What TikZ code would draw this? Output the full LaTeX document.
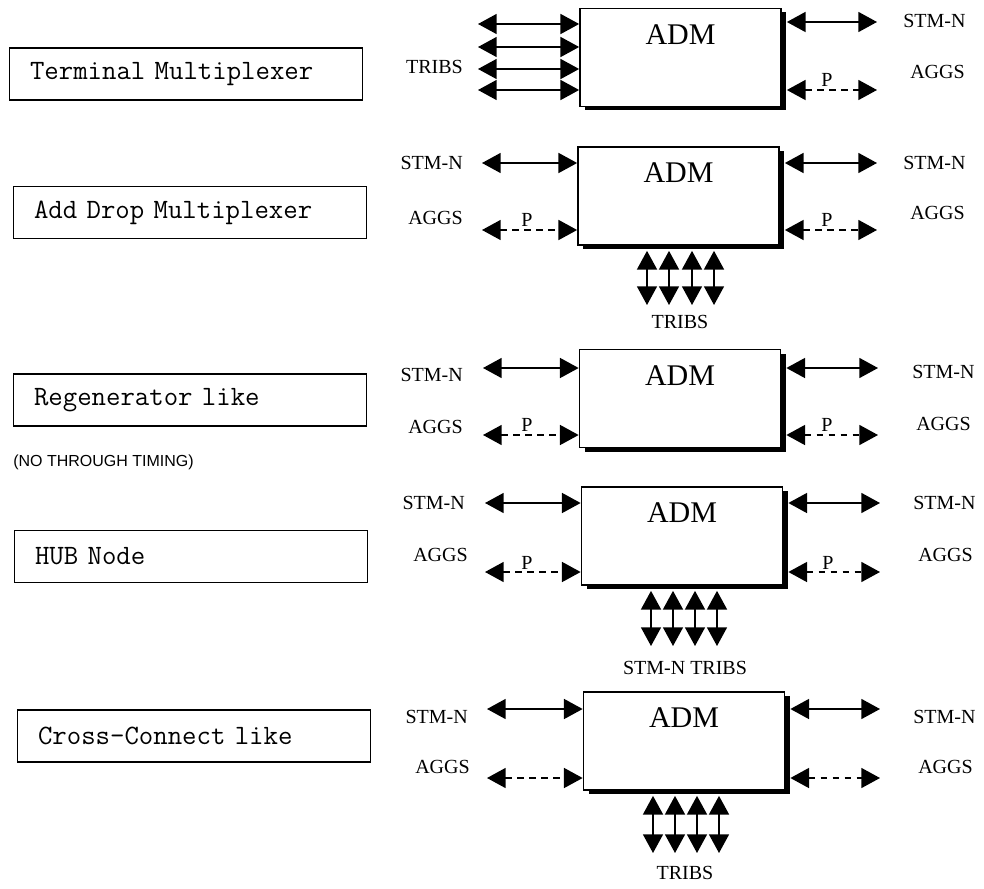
\documentclass[tikz,border=0pt]{standalone}
\usepackage{fontspec}
\setmainfont{Liberation Serif}
\newfontfamily\smallsans{Liberation Sans}
\usetikzlibrary{arrows.meta,calc,shadows}
\begin{document}
\begin{tikzpicture}[x=0.75pt,y=-0.75pt,
  arr/.style={line width=1.1pt,{Triangle[length=14pt,width=15pt]}-{Triangle[length=14pt,width=15pt]}},
  darr/.style={arr,dash pattern=on 5pt off 4pt},
  admbox/.style={draw,line width=1.3pt,fill=white,minimum width=150.75pt,minimum height=73.5pt,inner sep=0pt,
    drop shadow={shadow xshift=4pt,shadow yshift=-3pt,opacity=1,fill=black}},
  admtext/.style={font=\fontsize{22.5}{26}\selectfont,inner sep=0pt},
  sig/.style={font=\fontsize{15}{18}\selectfont,inner sep=0pt},
  lblbox/.style={draw,line width=0.9pt,minimum width=264.75pt,minimum height=39pt,text width=234pt,align=left,
    inner xsep=15pt,font=\ttfamily\fontsize{21}{25}\selectfont},
  note/.style={font=\smallsans\fontsize{12}{14}\selectfont,inner sep=0pt}]
\useasboundingbox (0,0) rectangle (984,888);

% ---------------- left description boxes
\node[lblbox] (d1) at (186,74) {Terminal Multiplexer};
\node[lblbox] (d2) at (190,212.5) {Add Drop Multiplexer};
\node[lblbox] (d3) at (190,400) {Regenerator like};
\node[note,anchor=west] (d3n) at (13,462) {(NO THROUGH TIMING)};
\node[lblbox] (d4) at (191,556.5) {HUB Node};
\node[lblbox] (d5) at (194,736) {Cross-Connect like};

% ---------------- row 1 : terminal multiplexer
\node[admbox] (a1) at (680.5,57.5) {};
\node[admtext] (a1t) at ([yshift=-20pt]a1.north) {ADM};
\foreach \i/\yy in {1/24,2/47,3/69,4/90}{
  \coordinate (l1\i) at (478,\yy);
  \draw[arr] (l1\i) -- (a1.west |- l1\i);
}
\node[sig,anchor=east] (t1) at (463,67) {TRIBS};
\coordinate (r1s) at (877,22);
\coordinate (r1d) at (877,90);
\draw[arr] ($(a1.east |- r1s)+(5,0)$) -- (r1s);
\draw[darr] ($(a1.east |- r1d)+(5,0)$) -- (r1d);
\node[sig] (p1r) at (827,80) {P};
\node[sig,anchor=west] (s1r) at (903,21) {STM-N};
\node[sig,anchor=west] (g1r) at (910,72) {AGGS};

% ---------------- row 2 : add drop multiplexer
\node[admbox] (a2) at (678.5,196) {};
\node[admtext] (a2t) at ([yshift=-20pt]a2.north) {ADM};
\coordinate (l2s) at (482,163);
\coordinate (l2d) at (482,230);
\draw[arr] (l2s) -- (a2.west |- l2s);
\draw[darr] (l2d) -- (a2.west |- l2d);
\node[sig,anchor=east] (s2l) at (463,163) {STM-N};
\node[sig,anchor=east] (g2l) at (463,218) {AGGS};
\node[sig] (p2l) at (527,220) {P};
\coordinate (r2s) at (877,163);
\coordinate (r2d) at (877,230);
\draw[arr] ($(a2.east |- r2s)+(5,0)$) -- (r2s);
\draw[darr] ($(a2.east |- r2d)+(5,0)$) -- (r2d);
\node[sig] (p2r) at (827,220) {P};
\node[sig,anchor=west] (s2r) at (903,163) {STM-N};
\node[sig,anchor=west] (g2r) at (910,213) {AGGS};
\foreach \i/\xx in {1/647,2/669,3/692,4/714}{
  \coordinate (v2\i) at (\xx,305);
  \draw[arr] ($(a2.south -| v2\i)+(0,5)$) -- (v2\i);
}
\node[sig] (t2) at (680,322) {TRIBS};

% ---------------- row 3 : regenerator like
\node[admbox] (a3) at (680,398.5) {};
\node[admtext] (a3t) at ([yshift=-20pt]a3.north) {ADM};
\coordinate (l3s) at (483,368);
\coordinate (l3d) at (483,435);
\draw[arr] (l3s) -- (a3.west |- l3s);
\draw[darr] (l3d) -- (a3.west |- l3d);
\node[sig,anchor=east] (s3l) at (463,375) {STM-N};
\node[sig,anchor=east] (g3l) at (463,427) {AGGS};
\node[sig] (p3l) at (527,425) {P};
\coordinate (r3s) at (878,368);
\coordinate (r3d) at (878,435);
\draw[arr] ($(a3.east |- r3s)+(5,0)$) -- (r3s);
\draw[darr] ($(a3.east |- r3d)+(5,0)$) -- (r3d);
\node[sig] (p3r) at (827,425) {P};
\node[sig,anchor=west] (s3r) at (912,372) {STM-N};
\node[sig,anchor=west] (g3r) at (916,424) {AGGS};

% ---------------- row 4 : hub node
\node[admbox] (a4) at (682,536) {};
\node[admtext] (a4t) at ([yshift=-20pt]a4.north) {ADM};
\coordinate (l4s) at (485,503);
\coordinate (l4d) at (485,572);
\draw[arr] (l4s) -- (a4.west |- l4s);
\draw[darr] (l4d) -- (a4.west |- l4d);
\node[sig,anchor=east] (s4l) at (465,503) {STM-N};
\node[sig,anchor=east] (g4l) at (468,555) {AGGS};
\node[sig] (p4l) at (527,563) {P};
\coordinate (r4s) at (880,503);
\coordinate (r4d) at (880,572);
\draw[arr] ($(a4.east |- r4s)+(5,0)$) -- (r4s);
\draw[darr] ($(a4.east |- r4d)+(5,0)$) -- (r4d);
\node[sig] (p4r) at (828,563) {P};
\node[sig,anchor=west] (s4r) at (913,503) {STM-N};
\node[sig,anchor=west] (g4r) at (918,555) {AGGS};
\foreach \i/\xx in {1/651,2/673,3/695,4/717}{
  \coordinate (v4\i) at (\xx,646);
  \draw[arr] ($(a4.south -| v4\i)+(0,5)$) -- (v4\i);
}
\node[sig] (t4) at (685,668) {STM-N TRIBS};

% ---------------- row 5 : cross-connect like
\node[admbox] (a5) at (684,741) {};
\node[admtext] (a5t) at ([yshift=-20pt]a5.north) {ADM};
\coordinate (l5s) at (487,709);
\coordinate (l5d) at (487,778);
\draw[arr] (l5s) -- (a5.west |- l5s);
\draw[darr] (l5d) -- (a5.west |- l5d);
\node[sig,anchor=east] (s5l) at (468,717) {STM-N};
\node[sig,anchor=east] (g5l) at (470,767) {AGGS};
\coordinate (r5s) at (880,709);
\coordinate (r5d) at (880,778);
\draw[arr] ($(a5.east |- r5s)+(5,0)$) -- (r5s);
\draw[darr] ($(a5.east |- r5d)+(5,0)$) -- (r5d);
\node[sig,anchor=west] (s5r) at (913,717) {STM-N};
\node[sig,anchor=west] (g5r) at (918,767) {AGGS};
\foreach \i/\xx in {1/653,2/675,3/697,4/719}{
  \coordinate (v5\i) at (\xx,853);
  \draw[arr] ($(a5.south -| v5\i)+(0,5)$) -- (v5\i);
}
\node[sig] (t5) at (685,873) {TRIBS};
\end{tikzpicture}
\end{document}
